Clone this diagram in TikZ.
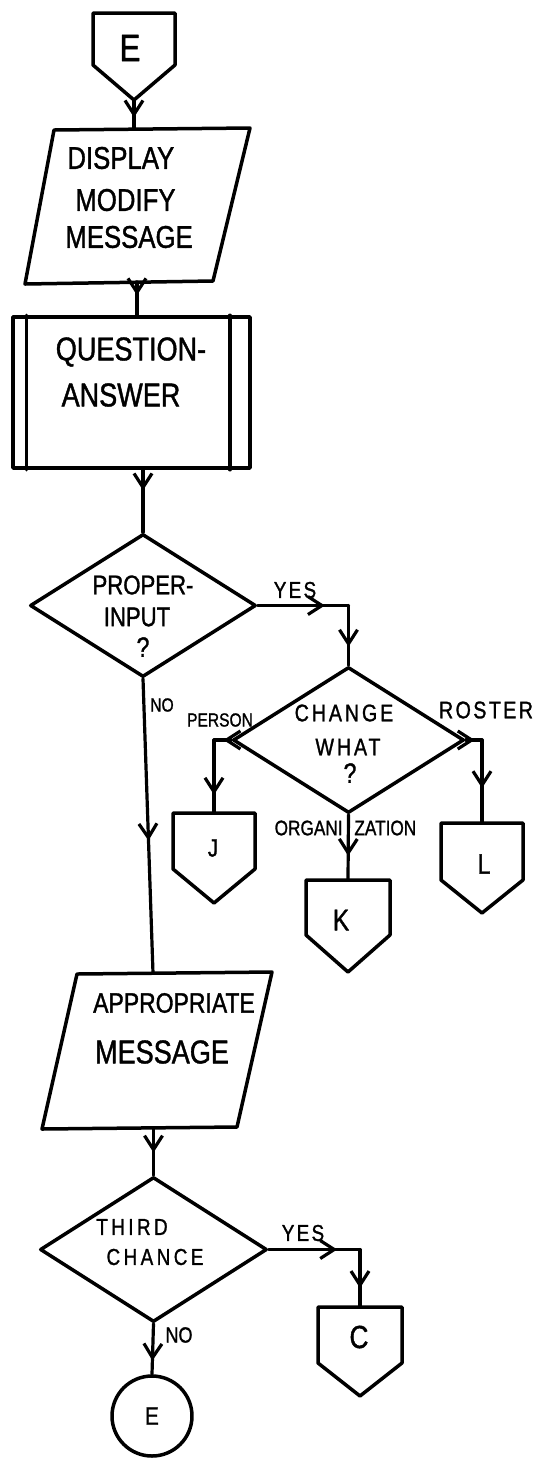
\documentclass[tikz,border=0pt]{standalone}
\usepackage{fontspec}
\newfontfamily\hand[FakeStretch=0.82,FakeBold=1.2]{Liberation Sans}
\usetikzlibrary{shapes.geometric,arrows.meta,decorations.markings,calc}

% off-page connector: name, left x, right x, top y, shoulder y, tip y
\newcommand\offpagebox[6]{%
  \draw[shp] (#2,#4) -- (#3,#4) -- (#3,#5) -- ({(#2+#3)/2},#6) -- (#2,#5) -- cycle;
  \coordinate (#1-top) at ({(#2+#3)/2},#4);
  \coordinate (#1-tip) at ({(#2+#3)/2},#6);
}

\begin{document}
\begin{tikzpicture}[x=0.5pt,y=-0.5pt,
  line join=round, line cap=round,
  shp/.style={draw, line width=1.75pt},
  flow/.style={line width=1.6pt,
    postaction={decorate, decoration={markings,
      mark=at position #1 with {\arrow{Straight Barb[length=7pt,width=9pt,line width=1.6pt]}}}}},
  flow/.default=0.5,
  txt/.style={inner sep=0pt, font={\hand\fontsize{#1}{#1}\selectfont}},
  txt/.default=12,
  dia/.style={diamond, draw, line width=1.75pt, inner sep=0pt}
]
\useasboundingbox (0,0) rectangle (540,1458);

% ---------- entry connector and first message ----------
\offpagebox{Etop}{93}{175}{13}{65}{100}
\node[txt=19] (tE) at (130,48) {E};

\draw[shp] (54,130) -- (250,128) -- (213,281) -- (25,284) -- cycle;
\coordinate (p1top) at (134,129);
\coordinate (p1bot) at (137,282);
\node[txt=15.7, anchor=west] (t1a) at (67,158) {DISPLAY};
\node[txt=15.7, anchor=west] (t1b) at (75,200) {MODIFY};
\node[txt=15.7, anchor=west] (t1c) at (65,237) {MESSAGE};

% ---------- predefined process ----------
\node[draw, line width=1.75pt, rectangle, inner sep=0pt,
      minimum width=118.5pt, minimum height=75.5pt] (qa) at (131.5,392.5) {};
\draw[line width=1.75pt] ($(qa.north west)+(15,0)$) -- ($(qa.south west)+(15,0)$);
\draw[line width=1.75pt] ($(qa.north east)+(-22,0)$) -- ($(qa.south east)+(-22,0)$);
\node[txt=16.5] (t2a) at (131,352) {QUESTION-};
\node[txt=16.5] (t2b) at (121,395) {ANSWER};

% ---------- first decision ----------
\node[dia, minimum width=113pt, minimum height=71.5pt] (d1) at (143,605.5) {};
\node[txt=13.5] (t3a) at (143,585) {PROPER-};
\node[txt=13.5] (t3b) at (137,617) {INPUT};
\node[txt=14] (t3c) at (143,647) {?};

% ---------- second decision ----------
\node[dia, minimum width=115.5pt, minimum height=73pt] (d2) at (348.5,740) {};
\node[txt=12] (t6a) at (344,713) {\addfontfeature{LetterSpace=12}CHANGE};
\node[txt=12] (t6b) at (348,747) {\addfontfeature{LetterSpace=12}WHAT};
\node[txt=14] (t6c) at (350,773) {?};

\offpagebox{J}{173}{255}{813}{869}{903}
\node[txt=12.5] (tJ) at (213,848) {J};
\offpagebox{K}{306}{390}{880}{935}{972}
\node[txt=15] (tK) at (341,920) {K};
\offpagebox{L}{441}{523}{823}{880}{913}
\node[txt=14] (tL) at (484,864) {L};

% ---------- error message and retry test ----------
\draw[shp] (77,974) -- (272,972) -- (237,1127) -- (42,1129) -- cycle;
\coordinate (p2top) at (153,973);
\coordinate (p2bot) at (153.5,1128);
\node[txt=14] (t10a) at (174,1003) {APPROPRIATE};
\node[txt=16.5] (t10b) at (162,1052) {MESSAGE};

\node[dia, minimum width=113.5pt, minimum height=72.5pt] (d3) at (153.5,1249.5) {};
\node[txt=11.5] (t11a) at (132,1227) {\addfontfeature{LetterSpace=15}THIRD};
\node[txt=11.5] (t11b) at (155,1257) {\addfontfeature{LetterSpace=15}CHANCE};

\offpagebox{C}{318}{402}{1307}{1363}{1396}
\node[txt=16] (tC) at (359,1337) {C};

\node[draw, circle, line width=1.75pt, inner sep=0pt, minimum size=40pt,
      txt=12.6] (Eend) at (152,1416) {E};

% ---------- connectors ----------
\draw[flow=0.6] (Etop-tip) -- (p1top);
\draw[flow=0.4] (p1bot) -- (p1bot |- qa.north);
\draw[flow=0.33] (qa.south -| d1.north) -- (d1.north);

\coordinate (c1) at (d1.east -| d2.north);
\draw[flow=0.74] (d1.east) -- (c1);
\draw[flow=0.69] (c1) -- (d2.north);
\node[txt=11.5] (t4) at (295,590) {\addfontfeature{LetterSpace=10}YES};

\draw[flow=0.55] (d1.south) -- (p2top);
\node[txt=9.5] (t5) at (162,705) {NO};

\coordinate (c2) at (d2.west -| J-top);
\draw[flow=0.45] (d2.west) -- (c2);
\draw[flow=0.75] (c2) -- (J-top);
\node[txt=9.5] (t7) at (220,720) {PERSON};

\coordinate (c3) at (d2.east -| L-top);
\draw[flow=0.55] (d2.east) -- (c3);
\draw[flow=0.58] (c3) -- (L-top);
\node[txt=12] (t8) at (486,710) {\addfontfeature{LetterSpace=10}ROSTER};

\draw[flow=0.63] (d2.south) -- (K-top);
\node[txt=10.5, anchor=east] (t9a) at (343,828) {ORGANI};
\node[txt=10.5, anchor=west] (t9b) at (354,828) {ZATION};

\draw[flow=0.52] (p2bot) -- (d3.north);

\coordinate (c4) at (d3.east -| C-top);
\draw[flow=0.75] (d3.east) -- (c4);
\draw[flow=0.67] (c4) -- (C-top);
\node[txt=11.5] (t12) at (303,1233) {\addfontfeature{LetterSpace=10}YES};

\draw[flow=0.73] (d3.south) -- (Eend.north);
\node[txt=11] (t13) at (179,1335) {NO};
\end{tikzpicture}
\end{document}
